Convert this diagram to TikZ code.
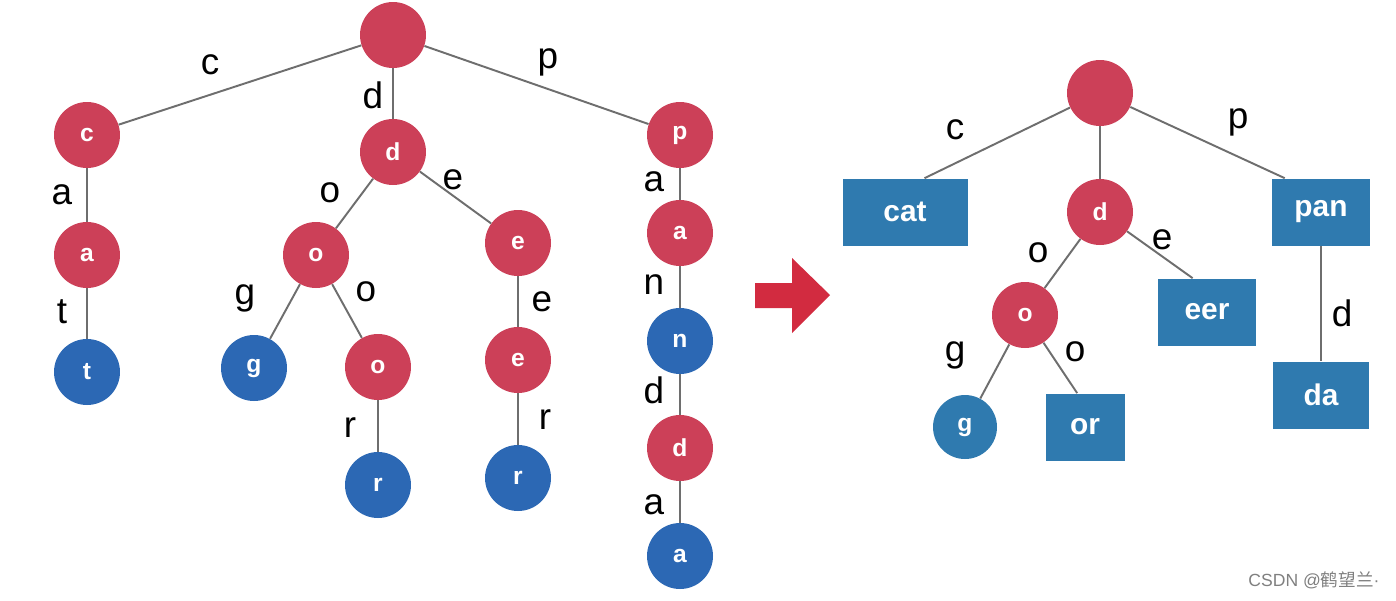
\documentclass[tikz,border=0pt]{standalone}
\usepackage{fontspec}
\setmainfont{Liberation Sans}
\newfontfamily\cjk{Noto Sans CJK SC}
\usetikzlibrary{positioning}
\definecolor{trred}{HTML}{CC4058}
\definecolor{trblue}{HTML}{2C68B4}
\definecolor{trsteel}{HTML}{2F7AAF}
\definecolor{trarrow}{HTML}{D22B40}
\definecolor{trline}{HTML}{6E6E6E}

\begin{document}
\begin{tikzpicture}[x=0.02cm, y=-0.02cm,
    inner/.style={circle, fill=trred, minimum size=1.32cm, inner sep=0pt,
                  text=white, font=\fontsize{14}{17}\selectfont\bfseries},
    leaf/.style={inner, fill=trblue},
    word/.style={rectangle, fill=trsteel, minimum height=1.34cm, inner sep=0pt,
                 text=white, font=\fontsize{17}{20}\selectfont\bfseries},
    lab/.style={inner sep=0pt, font=\fontsize{21}{25}\selectfont},
    edge/.style={draw=trline, line width=1.1pt}]
  \useasboundingbox[fill=white] (0,0) rectangle (1396,600);

  % left trie, one letter per node
  \node[inner] (root) at (393,35) {};
  \node[inner] (c) at (87,135) {c};
  \node[inner] (ca) at (87,255) {a};
  \node[leaf] (cat) at (87,372) {t};
  \node[inner] (d) at (393,152) {d};
  \node[inner] (do) at (316,255) {o};
  \node[leaf] (dog) at (254,368) {g};
  \node[inner] (doo) at (378,367) {o};
  \node[leaf] (door) at (378,485) {r};
  \node[inner] (de) at (518,243) {e};
  \node[inner] (dee) at (518,360) {e};
  \node[leaf] (deer) at (518,478) {r};
  \node[inner] (p) at (680,135) {p};
  \node[inner] (pa) at (680,233) {a};
  \node[leaf] (pan) at (680,341) {n};
  \node[inner] (pand) at (680,448) {d};
  \node[leaf] (panda) at (680,556) {a};

  \foreach \u/\v in {root/c, root/d, root/p, c/ca, ca/cat, d/do, d/de, do/dog,
                     do/doo, doo/door, de/dee, dee/deer, p/pa, pa/pan,
                     pan/pand, pand/panda}
    \draw[edge] (\u) -- (\v);

  \node[lab] (l1) at (210,65) {c};
  \node[lab] (l2) at (373,95) {d};
  \node[lab] (l3) at (548,62) {p};
  \node[lab] (l4) at (62,195) {a};
  \node[lab] (l5) at (62,312) {t};
  \node[lab] (l6) at (330,193) {o};
  \node[lab] (l7) at (453,180) {e};
  \node[lab] (l8) at (245,298) {g};
  \node[lab] (l9) at (366,292) {o};
  \node[lab] (l10) at (542,302) {e};
  \node[lab] (l11) at (350,428) {r};
  \node[lab] (l12) at (545,420) {r};
  \node[lab] (l13) at (654,182) {a};
  \node[lab] (l14) at (654,285) {n};
  \node[lab] (l15) at (654,390) {d};
  \node[lab] (l16) at (654,505) {a};

  % arrow
  \fill[trarrow] (755,283) -- (792,283) -- (792,258) -- (830,295)
    -- (792,333) -- (792,308) -- (755,308) -- cycle;

  % compressed trie
  \node[inner] (rroot) at (1100,93) {};
  \node[word, minimum width=2.5cm] (rcat) at (905,212) {cat};
  \node[inner] (rd) at (1100,212) {d};
  \node[word, minimum width=1.96cm] (rpan) at (1321,212) {pan};
  \node[inner] (ro) at (1025,315) {o};
  \node[word, minimum width=1.96cm] (reer) at (1207,312) {eer};
  \node[inner, fill=trsteel, minimum size=1.28cm] (rg) at (965,427) {g};
  \node[word, minimum width=1.58cm] (ror) at (1085,427) {or};
  \node[word, minimum width=1.92cm] (rda) at (1321,395) {da};

  \draw[edge] (rroot) -- (rcat.60);
  \draw[edge] (rroot) -- (rd);
  \draw[edge] (rroot) -- (rpan.137);
  \draw[edge] (rd) -- (ro);
  \draw[edge] (rd) -- (reer.113);
  \draw[edge] (ro) -- (rg);
  \draw[edge] (ro) -- (ror.103);
  \draw[edge] (rpan) -- (rda);

  \node[lab] (r1) at (955,130) {c};
  \node[lab] (r2) at (1238,122) {p};
  \node[lab] (r3) at (1038,253) {o};
  \node[lab] (r4) at (1162,240) {e};
  \node[lab] (r5) at (955,355) {g};
  \node[lab] (r6) at (1075,352) {o};
  \node[lab] (r7) at (1342,313) {d};

  \node[text=gray, font=\fontsize{10}{12}\selectfont] (mark) at (1314,580)
    {CSDN @{\cjk 鹤望兰}·};
\end{tikzpicture}
\end{document}
